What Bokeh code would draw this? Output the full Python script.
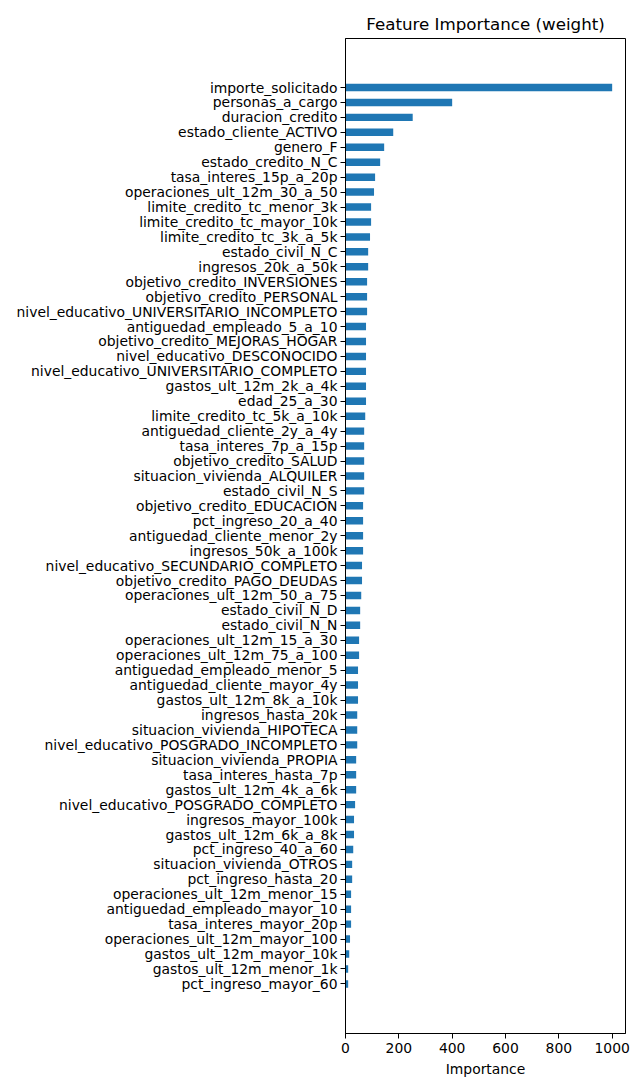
from bokeh.plotting import figure
from bokeh.models import Range1d, FixedTicker
from bokeh.embed import file_html
from bokeh.resources import INLINE

features = [
    "importe_solicitado", "personas_a_cargo", "duracion_credito", "estado_cliente_ACTIVO",
    "genero_F", "estado_credito_N_C", "tasa_interes_15p_a_20p", "operaciones_ult_12m_30_a_50",
    "limite_credito_tc_menor_3k", "limite_credito_tc_mayor_10k", "limite_credito_tc_3k_a_5k",
    "estado_civil_N_C", "ingresos_20k_a_50k", "objetivo_credito_INVERSIONES",
    "objetivo_credito_PERSONAL", "nivel_educativo_UNIVERSITARIO_INCOMPLETO",
    "antiguedad_empleado_5_a_10", "objetivo_credito_MEJORAS_HOGAR", "nivel_educativo_DESCONOCIDO",
    "nivel_educativo_UNIVERSITARIO_COMPLETO", "gastos_ult_12m_2k_a_4k", "edad_25_a_30",
    "limite_credito_tc_5k_a_10k", "antiguedad_cliente_2y_a_4y", "tasa_interes_7p_a_15p",
    "objetivo_credito_SALUD", "situacion_vivienda_ALQUILER", "estado_civil_N_S",
    "objetivo_credito_EDUCACION", "pct_ingreso_20_a_40", "antiguedad_cliente_menor_2y",
    "ingresos_50k_a_100k", "nivel_educativo_SECUNDARIO_COMPLETO", "objetivo_credito_PAGO_DEUDAS",
    "operaciones_ult_12m_50_a_75", "estado_civil_N_D", "estado_civil_N_N",
    "operaciones_ult_12m_15_a_30", "operaciones_ult_12m_75_a_100", "antiguedad_empleado_menor_5",
    "antiguedad_cliente_mayor_4y", "gastos_ult_12m_8k_a_10k", "ingresos_hasta_20k",
    "situacion_vivienda_HIPOTECA", "nivel_educativo_POSGRADO_INCOMPLETO", "situacion_vivienda_PROPIA",
    "tasa_interes_hasta_7p", "gastos_ult_12m_4k_a_6k", "nivel_educativo_POSGRADO_COMPLETO",
    "ingresos_mayor_100k", "gastos_ult_12m_6k_a_8k", "pct_ingreso_40_a_60",
    "situacion_vivienda_OTROS", "pct_ingreso_hasta_20", "operaciones_ult_12m_menor_15",
    "antiguedad_empleado_mayor_10", "tasa_interes_mayor_20p", "operaciones_ult_12m_mayor_100",
    "gastos_ult_12m_mayor_10k", "gastos_ult_12m_menor_1k", "pct_ingreso_mayor_60",
]

importance = [
    1000, 400, 252, 179,
    145, 130, 111, 107,
    96, 96, 92,
    85, 85, 81,
    81, 81,
    77, 77, 77,
    77, 77, 77,
    74, 70, 70,
    70, 70, 70,
    66, 66, 66,
    66, 62, 62,
    59, 55, 55,
    51, 51, 47,
    47, 47, 44,
    44, 44, 40,
    40, 40, 36,
    32, 32, 29,
    25, 25, 21,
    21, 21, 17,
    14, 10, 10,
]

x_ticks = [0, 200, 400, 600, 800, 1000]

n = len(features)
ypos = [n - 1 - i for i in range(n)]

FONT = "DejaVu Sans"

p = figure(
    width=640, height=1090,
    output_backend="svg", toolbar_location=None,
    x_range=Range1d(0, 1050), y_range=Range1d(-3.32, n - 1 + 3.28),
    min_border_left=345, min_border_right=15, min_border_top=38, min_border_bottom=57,
    title="Feature Importance (weight)",
)

p.hbar(y=ypos, right=importance, left=0, height=0.5, color="#1f77b4", line_color=None)

p.title.align = "center"
p.title.text_font = FONT
p.title.text_font_size = "16.7px"
p.title.text_font_style = "normal"
p.title.text_color = "black"

p.xgrid.visible = False
p.ygrid.visible = False
p.outline_line_color = "black"
p.outline_line_alpha = 1.0
p.outline_line_width = 1

p.yaxis.ticker = FixedTicker(ticks=ypos)
p.yaxis.major_label_overrides = {y: f for y, f in zip(ypos, features)}
p.xaxis.ticker = FixedTicker(ticks=x_ticks)
p.xaxis.axis_label = "Importance"

for ax in (p.xaxis[0], p.yaxis[0]):
    ax.major_label_text_font = FONT
    ax.major_label_text_font_size = "13.9px"
    ax.major_label_text_color = "black"
    ax.axis_label_text_font = FONT
    ax.axis_label_text_font_size = "13.9px"
    ax.axis_label_text_font_style = "normal"
    ax.axis_label_text_color = "black"
    ax.axis_line_color = "black"
    ax.major_tick_line_color = "black"
    ax.major_tick_out = 5
    ax.major_tick_in = 0
    ax.minor_tick_line_color = None
p.yaxis.major_label_standoff = 3
p.xaxis.major_label_standoff = 4

open("out.html", "w").write(file_html(p, INLINE))
